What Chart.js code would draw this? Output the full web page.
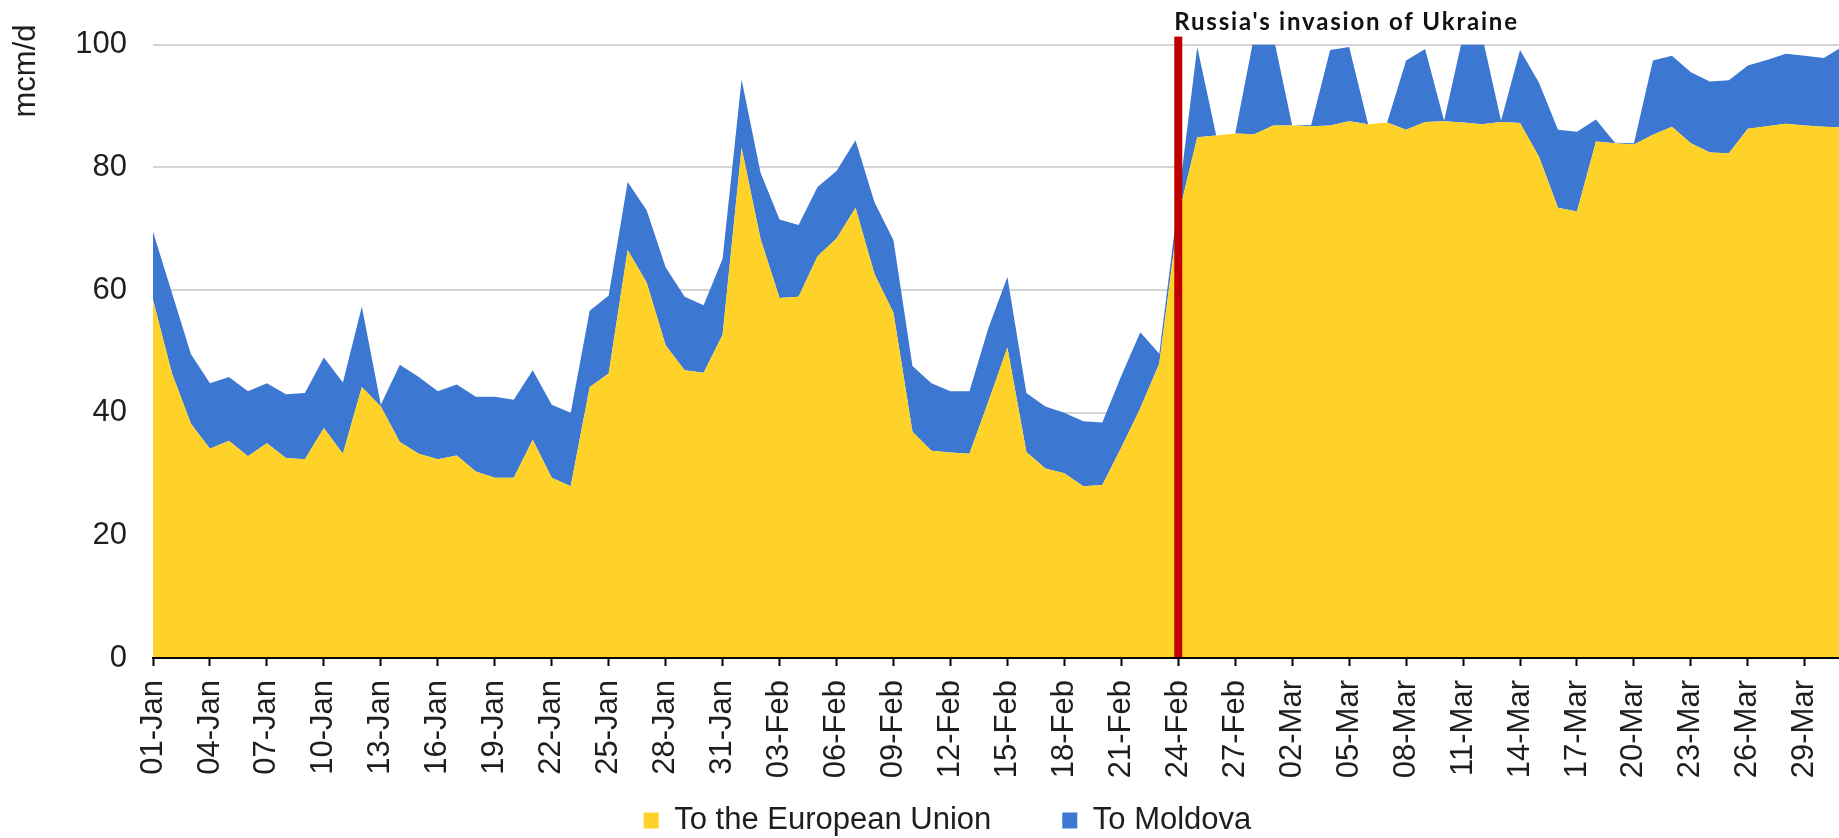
<!DOCTYPE html>
<html>
<head>
<meta charset="utf-8">
<script src="https://cdn.jsdelivr.net/npm/chart.js@4.4.1/dist/chart.umd.min.js"></script>
<style>
  html, body { margin: 0; padding: 0; background: #fff; }
  #wrap { width: 1839px; height: 838px; position: relative; }
</style>
</head>
<body>
<div id="wrap"><canvas id="flows"></canvas></div>
<script>
const dateLabels = [
  "01-Jan", "02-Jan", "03-Jan", "04-Jan", "05-Jan", "06-Jan", "07-Jan", "08-Jan", "09-Jan", "10-Jan",
  "11-Jan", "12-Jan", "13-Jan", "14-Jan", "15-Jan", "16-Jan", "17-Jan", "18-Jan", "19-Jan", "20-Jan",
  "21-Jan", "22-Jan", "23-Jan", "24-Jan", "25-Jan", "26-Jan", "27-Jan", "28-Jan", "29-Jan", "30-Jan",
  "31-Jan", "01-Feb", "02-Feb", "03-Feb", "04-Feb", "05-Feb", "06-Feb", "07-Feb", "08-Feb", "09-Feb",
  "10-Feb", "11-Feb", "12-Feb", "13-Feb", "14-Feb", "15-Feb", "16-Feb", "17-Feb", "18-Feb", "19-Feb",
  "20-Feb", "21-Feb", "22-Feb", "23-Feb", "24-Feb", "25-Feb", "26-Feb", "27-Feb", "28-Feb", "01-Mar",
  "02-Mar", "03-Mar", "04-Mar", "05-Mar", "06-Mar", "07-Mar", "08-Mar", "09-Mar", "10-Mar", "11-Mar",
  "12-Mar", "13-Mar", "14-Mar", "15-Mar", "16-Mar", "17-Mar", "18-Mar", "19-Mar", "20-Mar", "21-Mar",
  "22-Mar", "23-Mar", "24-Mar", "25-Mar", "26-Mar", "27-Mar", "28-Mar", "29-Mar", "30-Mar", "31-Mar"
];

// mcm/d
const euFlows = [
  58.4, 46.4, 38.2, 34.1, 35.4, 32.9, 35.0, 32.6, 32.4, 37.5,
  33.3, 44.2, 41.0, 35.2, 33.3, 32.4, 33.0, 30.4, 29.4, 29.4,
  35.6, 29.4, 28.0, 44.2, 46.4, 66.5, 61.2, 51.0, 46.9, 46.5,
  52.7, 83.2, 68.3, 58.7, 58.9, 65.5, 68.4, 73.4, 62.6, 56.3,
  36.9, 33.8, 33.5, 33.3, 41.8, 50.6, 33.6, 30.9, 30.1, 28.0,
  28.2, 34.3, 40.7, 48.0, 72.0, 84.9, 85.2, 85.5, 85.4, 86.8,
  86.8, 86.7, 86.8, 87.5, 87.0, 87.3, 86.1, 87.4, 87.5, 87.3,
  87.0, 87.4, 87.2, 81.7, 73.4, 72.8, 84.2, 83.9, 83.7, 85.3,
  86.6, 83.9, 82.4, 82.3, 86.3, 86.7, 87.1, 86.8, 86.6, 86.5
];

const moldovaFlows = [
  11.1, 13.1, 11.3, 10.7, 10.4, 10.6, 9.8, 10.4, 10.8, 11.5,
  11.6, 13.1, 0.3, 12.6, 12.5, 11.1, 11.6, 12.2, 13.2, 12.7,
  11.3, 11.9, 12.0, 12.4, 12.7, 11.1, 11.8, 12.7, 12.0, 11.0,
  12.4, 11.1, 10.8, 12.8, 11.7, 11.3, 11.0, 11.0, 11.7, 11.8,
  10.7, 11.0, 10.0, 10.2, 12.0, 11.5, 9.6, 10.1, 9.9, 10.6,
  10.2, 11.7, 12.4, 1.6, 2.5, 14.7, 0.0, 0.0, 16.1, 14.7,
  0.0, 0.2, 12.3, 12.1, 0.0, 0.0, 11.3, 11.9, 0.1, 14.2,
  14.5, 0.2, 11.9, 12.1, 12.7, 13.0, 3.6, 0.1, 0.2, 12.1,
  11.6, 11.6, 11.6, 11.9, 10.3, 10.8, 11.4, 11.4, 11.2, 13.2
];

const seriesNames = ["To the European Union", "To Moldova"];
const yTicks = [0, 20, 40, 60, 80, 100];
const tickEvery = 3;
const invasionDate = "24-Feb";
const invasionText = "Russia's invasion of Ukraine";
const unitLabel = "mcm/d";

const YELLOW = "#FED228";
const BLUE = "#3C78D2";
const TEXT = "#1e1e1e";
const FONT = "'Liberation Sans', Arial, sans-serif";

const toPoints = (arr) => arr.map((y, i) => ({ x: i, y: y }));

const invasionMarker = {
    id: "invasionMarker",
    afterLayout(chart) {
        // wide gap between legend items needs big padding, so the box is moved back by hand
        const lg = chart.legend;
        lg.left += 28;
        lg.right += 28;
        lg.top -= 45;
        lg.bottom -= 45;
    },
    afterDatasetsDraw(chart) {
        const { ctx, chartArea, scales } = chart;
        const x = scales.x.getPixelForValue(dateLabels.indexOf(invasionDate));
        ctx.save();
        ctx.fillStyle = "#C00000";
        ctx.fillRect(x - 4, chartArea.top - 8, 8, chartArea.bottom - chartArea.top + 8);
        ctx.fillStyle = "#111";
        ctx.font = "bold 24px Lato, 'Open Sans', sans-serif";
        ctx.letterSpacing = "1.8px";
        ctx.textAlign = "left";
        ctx.textBaseline = "alphabetic";
        ctx.fillText(invasionText, x - 4, 29.5);
        ctx.restore();
    },
    afterDraw(chart) {
        const ctx = chart.ctx;
        ctx.save();
        ctx.translate(26.8, 71);
        ctx.rotate(-Math.PI / 2);
        ctx.font = "31px " + FONT;
        ctx.fillStyle = TEXT;
        ctx.textAlign = "center";
        ctx.textBaseline = "middle";
        ctx.fillText(unitLabel, 0, 0);
        ctx.restore();
    }
};

new Chart(document.getElementById("flows"), {
    type: "line",
    plugins: [invasionMarker],
    data: {
        datasets: [
            {
                label: seriesNames[0],
                data: toPoints(euFlows),
                backgroundColor: YELLOW,
                borderColor: YELLOW,
                borderWidth: 0,
                pointRadius: 0,
                tension: 0,
                fill: "origin"
            },
            {
                label: seriesNames[1],
                data: toPoints(moldovaFlows),
                backgroundColor: BLUE,
                borderColor: BLUE,
                borderWidth: 0,
                pointRadius: 0,
                tension: 0,
                fill: "-1"
            }
        ]
    },
    options: {
        responsive: true,
        maintainAspectRatio: false,
        animation: false,
        layout: { padding: { top: 44, left: 0, right: 0, bottom: -53 } },
        plugins: {
            tooltip: { enabled: false },
            legend: {
                position: "bottom",
                labels: {
                    boxWidth: 15,
                    boxHeight: 16,
                    padding: 71,
                    color: TEXT,
                    font: { family: FONT, size: 31 }
                }
            }
        },
        scales: {
            x: {
                type: "linear",
                min: 0,
                max: 88.8,
                afterBuildTicks: (scale) => {
                    scale.ticks = dateLabels
                        .map((_, i) => i)
                        .filter((i) => i % tickEvery === 0)
                        .map((i) => ({ value: i }));
                },
                afterFit: (scale) => {
                    scale.height = 121;
                    scale.paddingLeft = 0;
                    scale.paddingRight = 0;
                },
                grid: {
                    display: true,
                    drawOnChartArea: false,
                    drawTicks: true,
                    tickLength: 8,
                    tickWidth: 2,
                    color: "#000",
                    tickColor: "#000"
                },
                border: { display: true, color: "#000", width: 2, z: 1 },
                ticks: {
                    autoSkip: false,
                    maxRotation: 90,
                    minRotation: 90,
                    padding: 14,
                    color: TEXT,
                    font: { family: FONT, size: 31 },
                    callback: (v) => dateLabels[v]
                }
            },
            y: {
                stacked: true,
                min: 0,
                max: 100,
                afterBuildTicks: (scale) => {
                    scale.ticks = yTicks.map((v) => ({ value: v }));
                },
                afterFit: (scale) => {
                    scale.width = 153;
                },
                grid: {
                    color: "#d4d4d4",
                    lineWidth: 2,
                    drawTicks: false
                },
                border: { display: false },
                ticks: {
                    padding: 26,
                    color: TEXT,
                    font: { family: FONT, size: 31 }
                }
            }
        }
    }
});
</script>
</body>
</html>
